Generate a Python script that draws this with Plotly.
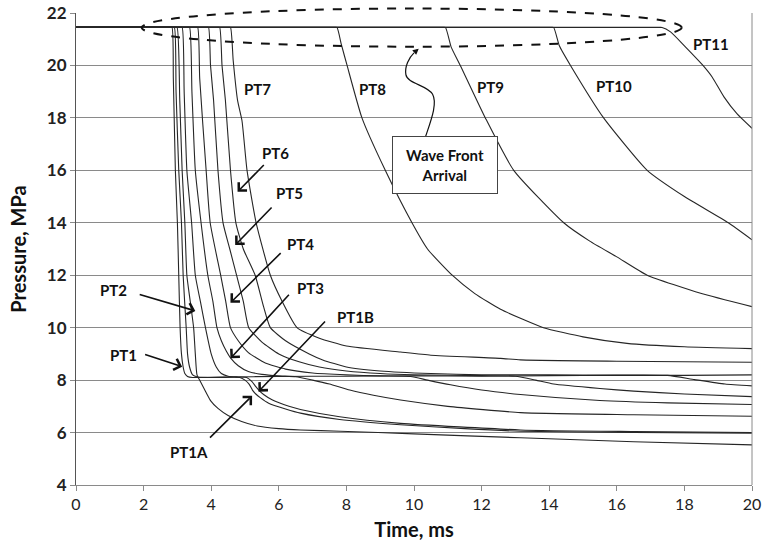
import plotly.graph_objects as go

P0 = 21.45  # initial pressure, MPa

# ---- curves: time (ms) / pressure (MPa) ----
pt1_t = [0, 2.76, 2.84, 2.88, 2.94, 3.0, 3.04, 3.08, 3.12, 3.17, 3.22, 3.3, 3.45, 4.5, 6, 8, 10, 12, 14, 16, 18, 20]
pt1_p = [P0, P0, P0, 19.5, 16, 14, 12, 10, 9, 8.5, 8.25, 8.14, 8.1, 8.12, 8.14, 8.15, 8.16, 8.15, 8.17, 8.18, 8.18, 8.2]

pt1a_t = [0, 2.83, 2.91, 2.96, 3.04, 3.12, 3.17, 3.26, 3.3, 3.36, 3.45, 3.6, 4.2, 4.85, 5.0, 5.12, 5.22, 5.32, 5.45,
          5.7, 6.2, 6.64, 7.8, 9.6, 11.5, 13.15, 16.5, 20]
pt1a_p = [P0, P0, P0, 19, 16, 14, 12, 10, 9, 8.5, 8.2, 8.12, 8.1, 8.1, 8.0, 7.85, 7.62, 7.47, 7.33,
          7.12, 6.9, 6.74, 6.5, 6.3, 6.15, 6.05, 6.0, 5.98]

pt1b_t = [0, 2.91, 2.99, 3.07, 3.14, 3.22, 3.28, 3.38, 3.48, 3.53, 3.58, 3.68, 3.78, 3.88, 3.98, 4.2, 4.5, 4.9,
          5.36, 6.0, 6.64, 7.82, 10, 13.15, 16.5, 20]
pt1b_p = [P0, P0, P0, 18.67, 16, 14, 12, 11, 10, 9.0, 8.2, 7.95, 7.7, 7.45, 7.22, 6.92, 6.65, 6.42,
          6.25, 6.15, 6.1, 6.05, 5.95, 5.8, 5.65, 5.53]

pt2_t = [0, 3.06, 3.14, 3.2, 3.28, 3.42, 3.53, 3.68, 3.83, 4.0, 4.15, 4.3, 4.5, 4.8, 5.05, 5.2, 5.32, 5.42, 5.55,
         5.8, 6.3, 6.64, 7.8, 9.6, 13.15, 16.5, 20]
pt2_p = [P0, P0, P0, 19, 16, 14, 12, 11, 10, 9, 8.5, 8.25, 8.15, 8.12, 8.1, 7.95, 7.75, 7.6, 7.45,
         7.25, 7.0, 6.88, 6.6, 6.35, 6.1, 6.04, 6.0]

pt3_t = [0, 3.28, 3.36, 3.43, 3.53, 3.7, 3.9, 4.05, 4.17, 4.3, 4.45, 4.57, 4.8, 5.1, 5.5, 6.0, 6.5, 7.0, 7.5,
         8.1, 8.8, 9.6, 11, 13.15, 16.5, 20]
pt3_p = [P0, P0, P0, 19, 16, 14, 12, 11, 10, 9.5, 9.1, 8.85, 8.55, 8.33, 8.22, 8.16, 8.13, 8.0, 7.85,
         7.62, 7.42, 7.24, 7.0, 6.76, 6.68, 6.62]

pt4_t = [0, 3.52, 3.6, 3.66, 3.85, 3.97, 4.28, 4.43, 4.57, 4.8, 5.1, 5.6, 6.2, 7.0, 8.0, 9.0, 9.9, 10.4, 11.08,
         12, 13.15, 15.5, 17.5, 20]
pt4_p = [P0, P0, P0, 19.5, 16, 14, 12, 11, 10, 9.5, 9.05, 8.65, 8.42, 8.27, 8.2, 8.16, 8.14, 8.0, 7.82,
         7.62, 7.45, 7.22, 7.13, 7.07]

pt5_t = [0, 3.84, 3.92, 3.98, 4.07, 4.2, 4.35, 4.55, 4.75, 4.95, 5.11, 5.5, 6.0, 6.6, 7.2, 8.0, 9.0, 10, 12,
         13.0, 13.6, 14.13, 15.5, 16.5, 18, 20]
pt5_p = [P0, P0, P0, 20, 18.67, 16, 14, 13, 12, 11, 10, 9.45, 9.0, 8.7, 8.5, 8.35, 8.25, 8.2, 8.17,
         8.15, 8.0, 7.85, 7.68, 7.58, 7.47, 7.37]

pt6_t = [0, 4.17, 4.25, 4.32, 4.42, 4.57, 4.73, 4.95, 5.3, 5.55, 5.75, 6.2, 6.9, 7.3, 8.0, 9.0, 10.5, 12, 14,
         16, 17.5, 18.3, 19.2, 20]
pt6_p = [P0, P0, P0, 20, 18.67, 16, 14, 13, 12, 10.8, 10, 9.5, 9.0, 8.77, 8.5, 8.35, 8.25, 8.2, 8.2,
         8.19, 8.18, 8.02, 7.85, 7.78]

pt7_t = [0, 4.49, 4.57, 4.65, 4.78, 4.91, 5.06, 5.33, 5.75, 6.1, 6.54, 7.2, 8.0, 9.6, 10.5, 12.56, 13.15, 16, 20]
pt7_p = [P0, P0, P0, 20.2, 18.67, 17.9, 16, 14, 12, 11, 10, 9.6, 9.3, 9.07, 8.95, 8.83, 8.77, 8.72, 8.68]

pt8_t = [0, 7.6, 7.72, 7.85, 8.02, 8.46, 9.15, 9.94, 10.4, 11.13, 11.8, 12.56, 13.83, 15.0, 16.3, 18.0, 20]
pt8_p = [P0, P0, P0, 20.8, 20, 18, 16, 14, 13, 12, 11.3, 10.7, 10.0, 9.65, 9.4, 9.27, 9.2]

pt9_t = [0, 10.8, 10.93, 11.1, 11.37, 12.11, 12.95, 14.43, 15.2, 16.0, 16.9, 18.48, 20]
pt9_p = [P0, P0, P0, 20.7, 20, 18, 16, 14, 13.3, 12.7, 12, 11.31, 10.8]

pt10_t = [0, 14.0, 14.13, 14.3, 14.63, 15.61, 16.9, 18.0, 19.3, 20]
pt10_p = [P0, P0, P0, 20.75, 20, 18, 16, 15.0, 14.0, 13.35]

pt11_t = [0, 17.2, 17.34, 17.59, 18.0, 18.53, 18.82, 19.17, 19.56, 20]
pt11_p = [P0, P0, P0, 21.28, 20.75, 20.03, 19.56, 18.8, 18.15, 17.6]

series = [
    ("PT1", pt1_t, pt1_p), ("PT1A", pt1a_t, pt1a_p), ("PT1B", pt1b_t, pt1b_p),
    ("PT2", pt2_t, pt2_p), ("PT3", pt3_t, pt3_p), ("PT4", pt4_t, pt4_p),
    ("PT5", pt5_t, pt5_p), ("PT6", pt6_t, pt6_p), ("PT7", pt7_t, pt7_p),
    ("PT8", pt8_t, pt8_p), ("PT9", pt9_t, pt9_p), ("PT10", pt10_t, pt10_p),
    ("PT11", pt11_t, pt11_p),
]

# plain labels (ms, MPa)
label_names = ["PT7", "PT8", "PT9", "PT10", "PT11"]
label_t = [5.38, 8.76, 12.26, 15.93, 18.78]
label_p = [19.1, 19.12, 19.16, 19.2, 20.81]

# arrowed labels: name, label pos, arrow tail, arrow tip
arrow_names = ["PT1", "PT2", "PT1A", "PT1B", "PT3", "PT4", "PT5", "PT6"]
arrow_lab_t = [1.40, 1.10, 3.33, 8.27, 6.94, 6.65, 6.31, 5.90]
arrow_lab_p = [8.96, 11.43, 5.26, 10.40, 11.52, 13.18, 15.12, 16.66]
arrow_tail_t = [2.0, 1.84, 3.92, 7.41, 6.34, 6.10, 5.83, 5.60]
arrow_tail_p = [9.0, 11.28, 5.75, 10.29, 11.31, 12.9, 14.64, 16.26]
arrow_tip_t = [3.14, 3.53, 5.21, 5.40, 4.57, 4.57, 4.71, 4.78]
arrow_tip_p = [8.51, 10.64, 7.40, 7.56, 8.83, 10.95, 13.15, 15.18]

FONT = "Lato, 'Open Sans', sans-serif"
LINE_COLOR = "#262626"

fig = go.Figure()
for name, t, p in series:
    fig.add_trace(go.Scatter(x=t, y=p, mode="lines", name=name,
                             line=dict(color=LINE_COLOR, width=1.1, shape="spline", smoothing=0.5),
                             hoverinfo="x+y+name", showlegend=False))

annotations = []
for n, x, y in zip(label_names, label_t, label_p):
    annotations.append(dict(x=x, y=y, xref="x", yref="y", text=f"<b>{n}</b>", showarrow=False,
                            font=dict(family=FONT, size=15, color="#111")))
for n, lx, ly, ax, ay, tx, ty in zip(arrow_names, arrow_lab_t, arrow_lab_p, arrow_tail_t, arrow_tail_p,
                                     arrow_tip_t, arrow_tip_p):
    annotations.append(dict(x=lx, y=ly, xref="x", yref="y", text=f"<b>{n}</b>", showarrow=False,
                            font=dict(family=FONT, size=15, color="#111")))
    annotations.append(dict(x=tx, y=ty, xref="x", yref="y", ax=ax, ay=ay, axref="x", ayref="y",
                            text="", showarrow=True, arrowhead=4, arrowsize=1.4, arrowwidth=1.6,
                            arrowcolor="#111", standoff=0))

# Wave front box
annotations.append(dict(x=10.91, y=16.19, xref="x", yref="y", text="<b>Wave Front</b><br><b>Arrival</b>",
                        showarrow=False, font=dict(family=FONT, size=15, color="#111"),
                        bgcolor="white", bordercolor="#444", borderwidth=1, borderpad=8,
                        width=88, height=40, align="center"))
annotations.append(dict(x=10.14, y=20.64, xref="x", yref="y", ax=9.98, ay=20.46, axref="x", ayref="y",
                        text="", showarrow=True, arrowhead=2, arrowsize=1.0, arrowwidth=1.2,
                        arrowcolor="#111", standoff=0))

shapes = [
    dict(type="circle", xref="paper", yref="paper", x0=0.0972, x1=0.896, y0=0.9286, y1=1.0095,
         line=dict(color="#111", width=2, dash="dash")),
    dict(type="path", xref="x", yref="y",
         path="M 10.34,17.28 C 10.5,17.9 10.7,18.55 10.55,18.9 C 10.4,19.25 9.8,19.3 9.76,19.65 "
              "C 9.72,19.95 9.85,20.3 10.0,20.48",
         line=dict(color="#111", width=1.2)),
    dict(type="line", xref="paper", yref="paper", x0=1, x1=1, y0=0, y1=1,
         line=dict(color="#8a8a8a", width=1)),
]

fig.update_layout(
    width=764, height=548,
    margin=dict(l=76, r=12, t=13, b=63),
    paper_bgcolor="white", plot_bgcolor="white",
    font=dict(family=FONT, color="#111"),
    annotations=annotations, shapes=shapes,
    xaxis=dict(range=[0, 20], dtick=2, tick0=0, showgrid=False, zeroline=False, automargin=False,
               showline=True, linecolor="#8a8a8a", linewidth=1, ticklabeloverflow="allow",
               ticks="outside", ticklen=5, tickcolor="#8a8a8a",
               tickfont=dict(family=FONT, size=16, color="#222"),
               title=dict(text="<b>Time, ms</b>", font=dict(family=FONT, size=20, color="#111"), standoff=10)),
    yaxis=dict(range=[4, 22], dtick=2, tick0=4, showgrid=True, gridcolor="#8a8a8a", gridwidth=1,
               zeroline=False, showline=True, linecolor="#555", linewidth=1, automargin=False,
               ticklabeloverflow="allow",
               ticks="outside", ticklen=5, tickcolor="#8a8a8a",
               tickfont=dict(family=FONT, size=17, color="#222", weight="bold"),
               title=dict(text="<b>Pressure, MPa</b>", font=dict(family=FONT, size=20, color="#111"), standoff=14)),
)

# remove the browser's default 8px body margin so the figure fills the window exactly
fig.write_html("out.html", config={"displayModeBar": False},
               post_script="document.body.style.margin='0px';document.body.style.overflow='hidden';")
